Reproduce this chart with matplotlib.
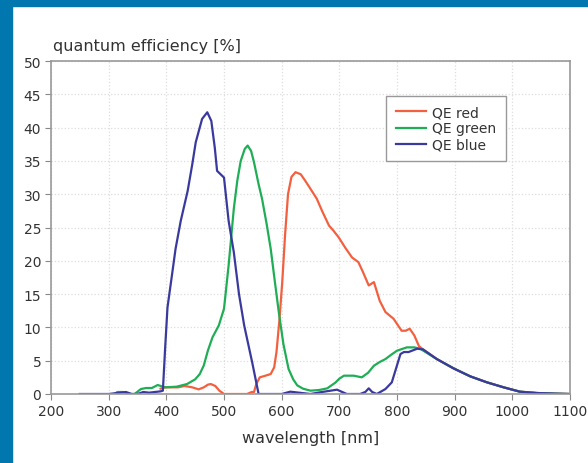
import matplotlib
matplotlib.use("Agg")
import matplotlib.pyplot as plt
from matplotlib.patches import Rectangle

plt.rcParams["font.family"] = ["DejaVu Sans"]

# tail shared shape beyond ~840 nm (read per series)
red_wl = [390, 398, 410, 420, 432, 445, 456, 465, 472, 477, 485, 492, 500, 520, 540, 548, 552,
          556, 562, 570, 581, 587, 591, 596, 601, 606, 611, 617, 624, 633, 641, 650, 661, 670,
          682, 690, 699, 710, 722, 733, 740, 751, 760, 770, 780, 794, 808, 815, 822, 830, 838,
          845, 869, 898, 927, 956, 985, 1013, 1042, 1075, 1100]
red_qe = [0.8, 1.0, 1.0, 1.0, 1.2, 1.0, 0.7, 1.0, 1.4, 1.5, 1.2, 0.5, 0, 0, 0, 0.3, 0.3,
          1.5, 2.5, 2.7, 3.0, 4.0, 6.3, 11, 16.8, 24, 30, 32.6, 33.3, 33.0, 32, 30.8, 29.3, 27.5,
          25.3, 24.5, 23.5, 22, 20.5, 19.8, 18.5, 16.3, 16.8, 14, 12.3, 11.3, 9.5, 9.5, 9.8, 8.8, 7.2,
          6.7, 5.25, 3.85, 2.65, 1.75, 1.0, 0.35, 0.15, 0.05, 0]

green_wl = [310, 315, 325, 335, 345, 356, 365, 375, 385, 398, 418, 436, 450, 458, 465, 472, 480,
            491, 500, 508, 517, 523, 529, 536, 541, 547, 552, 560, 566, 574, 581, 588, 595, 603,
            612, 620, 627, 637, 650, 665, 679, 693, 700, 708, 725, 739, 750, 760, 770, 780, 790,
            800, 817, 830, 840, 869, 898, 927, 956, 985, 1013, 1042, 1075, 1100]
green_qe = [0, 0.3, 0.3, 0, 0, 0.75, 0.9, 0.9, 1.35, 1.0, 1.1, 1.5, 2.2, 3, 4.3, 6.5, 8.5,
            10.3, 12.8, 19.3, 27.8, 32, 35, 36.8, 37.3, 36.5, 34.8, 31.5, 29.3, 25.5, 21.8, 17, 12.3, 7.5,
            3.75, 2.2, 1.3, 0.8, 0.5, 0.6, 0.85, 1.7, 2.3, 2.75, 2.75, 2.5, 3.2, 4.25, 4.8, 5.25, 5.9,
            6.5, 7.0, 7.0, 6.8, 5.25, 3.85, 2.65, 1.75, 1.0, 0.35, 0.15, 0.05, 0]

blue_wl = [250, 300, 320, 330, 340, 350, 360, 370, 380, 390, 394, 398, 402, 410, 416, 425, 437,
           445, 451, 462, 471, 478, 484, 488, 500, 508, 517, 526, 535, 549, 560, 600, 615, 630,
           650, 670, 696, 705, 713, 736, 745, 751, 757, 765, 780, 791, 806, 812, 820, 835, 845,
           869, 898, 927, 956, 985, 1013, 1042, 1075, 1100]
blue_qe = [0, 0, 0.2, 0.3, 0, 0, 0.3, 0.2, 0.3, 0.4, 0.5, 7, 13, 18, 21.8, 26, 30.5,
           34.5, 37.8, 41.3, 42.3, 41, 37, 33.5, 32.5, 26, 21.3, 15, 10.3, 4.7, 0, 0, 0.35, 0.2,
           0, 0.3, 0.65, 0.3, 0, 0, 0.3, 0.85, 0.3, 0, 0.75, 1.75, 6.0, 6.3, 6.3, 6.8, 6.7,
           5.25, 3.85, 2.65, 1.75, 1.0, 0.35, 0.15, 0.05, 0]

x_ticks = list(range(200, 1101, 100))
y_ticks = list(range(0, 51, 5))

fig = plt.figure(figsize=(5.88, 4.64), dpi=100)
ax = fig.add_axes([51 / 588, 69 / 464, 519 / 588, 333 / 464])

# blue frame at left and top edges
fig.patches.append(Rectangle((0, 0), 12 / 588, 1, transform=fig.transFigure,
                             color="#0077ae", zorder=0))
fig.patches.append(Rectangle((0, 1 - 7 / 464), 1, 7 / 464, transform=fig.transFigure,
                             color="#0077ae", zorder=0))

ax.plot(red_wl, red_qe, color="#f2603f", lw=1.6, label="QE red")
ax.plot(green_wl, green_qe, color="#1fae55", lw=1.6, label="QE green")
ax.plot(blue_wl, blue_qe, color="#3a3a9e", lw=1.6, label="QE blue")

ax.set_xlim(200, 1100)
ax.set_ylim(0, 50)
ax.set_xticks(x_ticks)
ax.set_yticks(y_ticks)
ax.tick_params(labelsize=10, colors="#333333", length=4, width=0.8, color="#888888", pad=3)
ax.grid(True, color="#dddddd", linestyle=":", linewidth=0.9)
for s in ax.spines.values():
    s.set_color("#999999")
    s.set_linewidth(1.2)

ax.set_xlabel("wavelength [nm]", fontsize=11.5, color="#333333", labelpad=9)
fig.text(53 / 588, 1 - 47 / 464, "quantum efficiency [%]", fontsize=11.5, color="#333333",
         va="center", ha="left")

leg = ax.legend(loc="upper right", bbox_to_anchor=(0.877, 0.896), borderaxespad=0,
                fontsize=10, handlelength=2.2, handletextpad=0.45, borderpad=0.7,
                labelspacing=0.15, fancybox=False, edgecolor="#999999", framealpha=1)
leg.get_frame().set_linewidth(1.0)
for t in leg.get_texts():
    t.set_color("#333333")

fig.savefig("out.png", dpi=100)
